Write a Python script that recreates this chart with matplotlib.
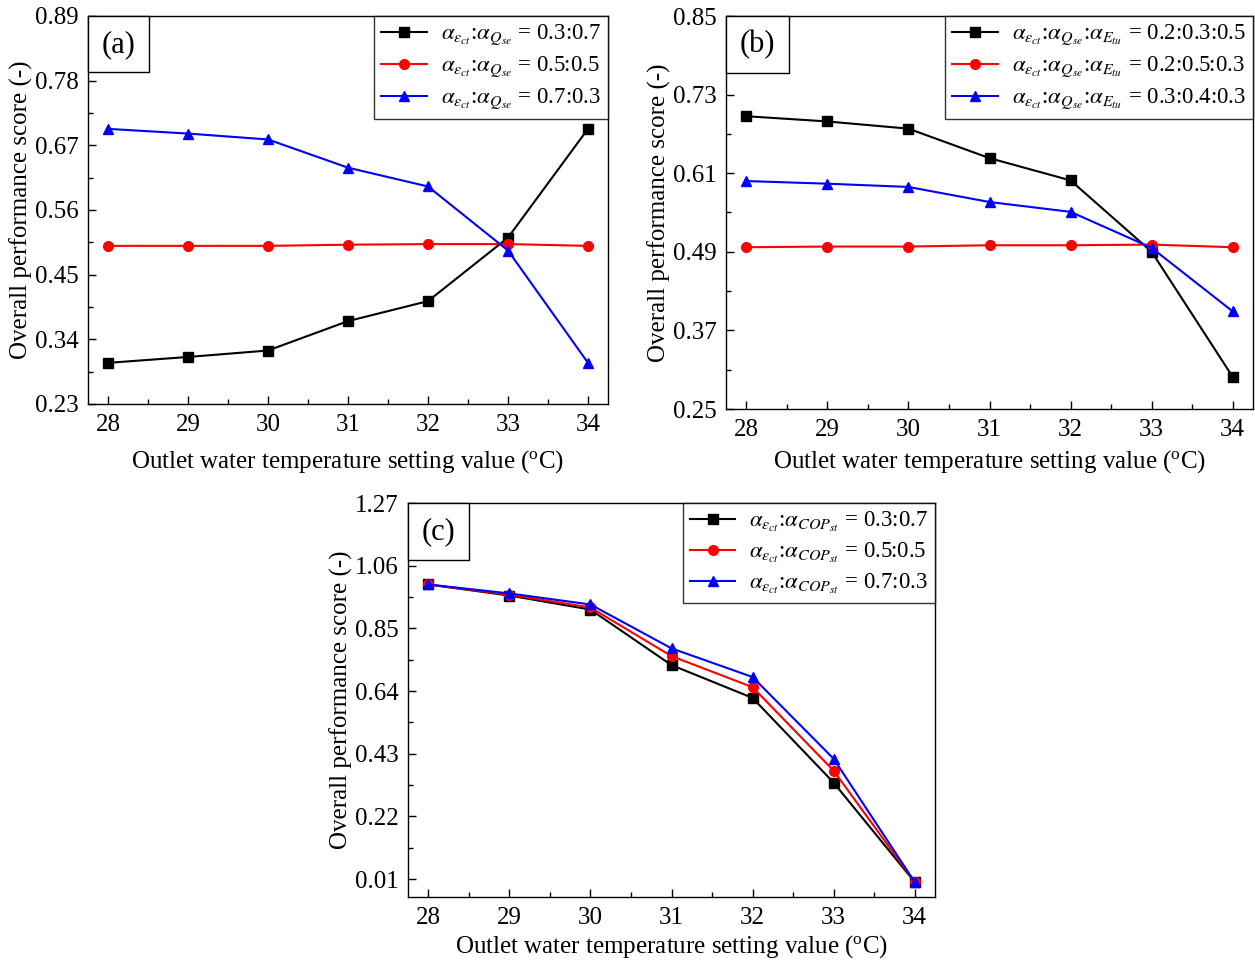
import matplotlib
matplotlib.use('Agg')
import matplotlib.pyplot as plt
from matplotlib.ticker import FixedLocator, MultipleLocator
from matplotlib.offsetbox import AnchoredText

plt.rcParams['font.family'] = ['Liberation Serif', 'DejaVu Serif']
plt.rcParams['mathtext.fontset'] = 'stix'
plt.rcParams['font.size'] = 18

temps = [28, 29, 30, 31, 32, 33, 34]

# panel (a)
a_black = [0.300, 0.310, 0.321, 0.371, 0.405, 0.513, 0.698]
a_red = [0.499, 0.499, 0.499, 0.501, 0.502, 0.502, 0.499]
a_blue = [0.698, 0.690, 0.680, 0.632, 0.600, 0.491, 0.300]
a_labels = [r'$\alpha_{\varepsilon_{ct}}$:$\alpha_{Q_{se}}$ = 0.3:0.7',
            r'$\alpha_{\varepsilon_{ct}}$:$\alpha_{Q_{se}}$ = 0.5:0.5',
            r'$\alpha_{\varepsilon_{ct}}$:$\alpha_{Q_{se}}$ = 0.7:0.3']
a_yticks = [0.23, 0.34, 0.45, 0.56, 0.67, 0.78, 0.89]

# panel (b)
b_black = [0.697, 0.689, 0.678, 0.633, 0.599, 0.490, 0.299]
b_red = [0.497, 0.498, 0.498, 0.500, 0.500, 0.501, 0.497]
b_blue = [0.598, 0.594, 0.589, 0.566, 0.551, 0.496, 0.399]
b_labels = [r'$\alpha_{\varepsilon_{ct}}$:$\alpha_{Q_{se}}$:$\alpha_{E_{tu}}$ = 0.2:0.3:0.5',
            r'$\alpha_{\varepsilon_{ct}}$:$\alpha_{Q_{se}}$:$\alpha_{E_{tu}}$ = 0.2:0.5:0.3',
            r'$\alpha_{\varepsilon_{ct}}$:$\alpha_{Q_{se}}$:$\alpha_{E_{tu}}$ = 0.3:0.4:0.3']
b_yticks = [0.25, 0.37, 0.49, 0.61, 0.73, 0.85]

# panel (c)
c_black = [0.997, 0.960, 0.913, 0.727, 0.617, 0.333, 0.0]
c_red = [0.997, 0.963, 0.920, 0.757, 0.653, 0.373, 0.0]
c_blue = [0.997, 0.967, 0.930, 0.783, 0.687, 0.413, 0.0]
c_labels = [r'$\alpha_{\varepsilon_{ct}}$:$\alpha_{COP_{st}}$ = 0.3:0.7',
            r'$\alpha_{\varepsilon_{ct}}$:$\alpha_{COP_{st}}$ = 0.5:0.5',
            r'$\alpha_{\varepsilon_{ct}}$:$\alpha_{COP_{st}}$ = 0.7:0.3']
c_yticks = [0.01, 0.22, 0.43, 0.64, 0.85, 1.06, 1.27]

W, H = 1255, 963
fig = plt.figure(figsize=(W / 100, H / 100), dpi=100)


def make_axes(l, t, r, b):
    return fig.add_axes([l / W, 1 - b / H, (r - l) / W, (b - t) / H])


def draw_panel(ax, series, labels, yticks, ylim, tag, xpad):
    styles = [('black', 's'), ('red', 'o'), ('blue', '^')]
    for vals, lab, (col, mk) in zip(series, labels, styles):
        ax.plot(temps, vals, color=col, marker=mk, markersize=7, lw=1.5, label=lab)
    ax.set_xlim(27.75, 34.25)
    ax.set_ylim(*ylim)
    ax.set_xticks(temps)
    ax.xaxis.set_minor_locator(MultipleLocator(0.5))
    ax.yaxis.set_major_locator(FixedLocator(yticks))
    step = yticks[1] - yticks[0]
    ax.yaxis.set_minor_locator(FixedLocator([y + step / 2 for y in yticks[:-1]]))
    ax.set_yticklabels([f'{y:.2f}' for y in yticks])
    ax.tick_params(which='major', direction='in', length=6, width=1, labelsize=18, pad=7)
    ax.tick_params(which='minor', direction='in', length=3.5, width=1)
    for s in ax.spines.values():
        s.set_linewidth(1)
    ax.set_xlabel('Outlet water temperature setting value ($\\mathregular{^{o}}$C)',
                  fontsize=18, labelpad=xpad)
    ax.set_ylabel('Overall performance score (-)', fontsize=18, labelpad=1)
    leg = ax.legend(loc='upper right', borderaxespad=0, fancybox=False, edgecolor='black',
                    fontsize=16.5, handlelength=2.0, handletextpad=0.6,
                    labelspacing=0.3, borderpad=0.3)
    leg.get_frame().set_linewidth(1)
    at = AnchoredText(tag, loc='upper left', pad=0.45, borderpad=0,
                      prop=dict(size=22), frameon=True)
    at.patch.set_boxstyle('square,pad=0')
    at.patch.set_edgecolor('black')
    at.patch.set_linewidth(1)
    ax.add_artist(at)


ax_a = make_axes(88, 16, 608, 404)
draw_panel(ax_a, [a_black, a_red, a_blue], a_labels, a_yticks, (0.23, 0.89), '(a)', 9)

ax_b = make_axes(726, 16, 1253, 409)
draw_panel(ax_b, [b_black, b_red, b_blue], b_labels, b_yticks, (0.25, 0.85), '(b)', 5)

ax_c = make_axes(408, 503, 935, 897)
draw_panel(ax_c, [c_black, c_red, c_blue], c_labels, c_yticks, (-0.05, 1.27), '(c)', 3)

fig.savefig('out.png', dpi=100)
